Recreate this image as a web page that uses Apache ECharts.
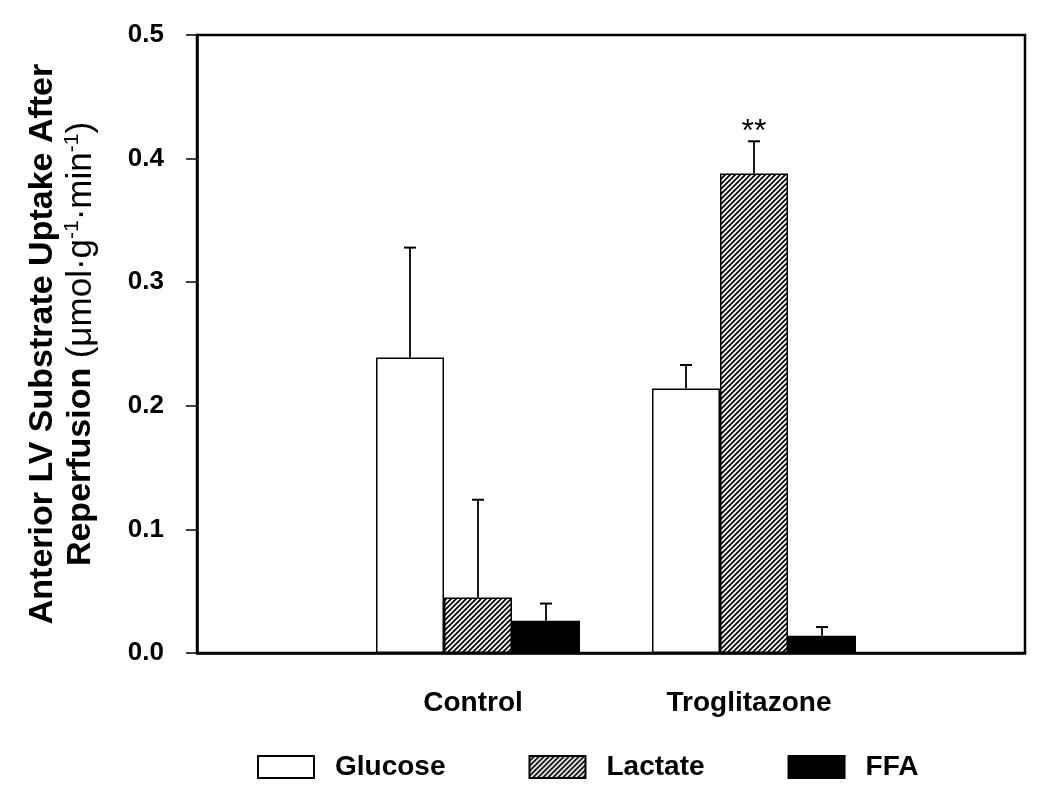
<!DOCTYPE html>
<html><head><meta charset="utf-8">
<script src="https://cdn.jsdelivr.net/npm/echarts@6/dist/echarts.min.js"></script>
<style>html,body{margin:0;padding:0;background:#fff}#c{width:1050px;height:805px}</style>
</head><body><div id="c"></div>
<script>
// ---- data ----
const categories = ['', 'Control', 'Troglitazone', ''];
const seriesNames = ['Glucose', 'Lactate', 'FFA'];
const glucose = [null, 0.239, 0.214, null];
const lactate = [null, 0.045, 0.388, null];
const ffa = [null, 0.026, 0.014, null];
const glucoseErr = [null, 0.089, 0.019, null];
const lactateErr = [null, 0.079, 0.026, null];
const ffaErr = [null, 0.014, 0.007, null];
const lactateMarks = ['', '', '**', ''];
const yMin = 0, yMax = 0.5, yStep = 0.1;

// ---- style ----
const FONT = 'Liberation Sans, Arial, Helvetica, sans-serif';
const BAR_W = 68;
const SPACER_W = 10; // empty slot that nudges the bar group right

function hatchCanvas() {
  const s = 5, c = document.createElement('canvas');
  c.width = s; c.height = s;
  const g = c.getContext('2d');
  g.fillStyle = '#fff'; g.fillRect(0, 0, s, s);
  g.strokeStyle = '#000'; g.lineWidth = 1.8; g.lineCap = 'square';
  g.beginPath();
  g.moveTo(0, s); g.lineTo(s, 0);
  g.moveTo(-1, 1); g.lineTo(1, -1);
  g.moveTo(s - 1, s + 1); g.lineTo(s + 1, s - 1);
  g.stroke();
  return c;
}
const fills = ['#ffffff', { image: hatchCanvas(), repeat: 'repeat' }, '#000000'];
const values = [glucose, lactate, ffa];
const errors = [glucoseErr, lactateErr, ffaErr];
const marks = [[], lactateMarks, []];

const series = [{
  name: 'spacer', type: 'bar', data: categories.map(() => null),
  barWidth: SPACER_W, barGap: '0%', silent: true, itemStyle: { color: 'transparent' }
}];
values.forEach((vals, k) => {
  series.push({
    name: seriesNames[k], type: 'bar', data: vals,
    barWidth: BAR_W, barGap: '0%',
    itemStyle: { color: fills[k], borderColor: '#000', borderWidth: 1.5 },
    emphasis: { disabled: true }, z: 2
  });
});
values.forEach((vals, k) => {
  const data = [];
  vals.forEach((v, i) => { if (v != null) data.push([i, v, errors[k][i], marks[k][i] || '']); });
  series.push({
    name: seriesNames[k] + ' err', type: 'custom', z: 3, silent: true,
    encode: { x: 0, y: 1 },
    data: data,
    renderItem: function (params, api) {
      const i = api.value(0), v = api.value(1), e = api.value(2);
      const mark = data[params.dataIndex][3];
      const off = (k - 1) * BAR_W + SPACER_W / 2;
      const p0 = api.coord([i, v]);
      const p1 = api.coord([i, v + e]);
      const x = p0[0] + off;
      const children = [
        { type: 'line', shape: { x1: x, y1: p0[1], x2: x, y2: p1[1] }, style: { stroke: '#000', lineWidth: 1.8 } },
        { type: 'line', shape: { x1: x - 6, y1: p1[1], x2: x + 6, y2: p1[1] }, style: { stroke: '#000', lineWidth: 2 } }
      ];
      if (mark) {
        children.push({ type: 'text', x: x, y: p1[1] - 9,
          style: { text: mark, fill: '#000', font: '32px ' + FONT, align: 'center', verticalAlign: 'middle' } });
      }
      return { type: 'group', children: children };
    }
  });
});

const chart = echarts.init(document.getElementById('c'), null, { renderer: 'canvas' });
chart.setOption({
  animation: false,
  backgroundColor: '#fff',
  grid: { left: 197, right: 25, top: 35, bottom: 152, show: true, borderColor: '#000', borderWidth: 2.5, backgroundColor: 'transparent' },
  legend: {
    data: seriesNames, left: 257, top: 753, padding: 0,
    icon: 'rect', itemWidth: 56, itemHeight: 22, itemGap: 83,
    selectedMode: false,
    textStyle: { fontFamily: FONT, fontWeight: 'bold', fontSize: 28, color: '#000', padding: [0, 0, 0, 16] }
  },
  xAxis: {
    type: 'category', data: categories, boundaryGap: false,
    axisLine: { lineStyle: { color: '#000', width: 2.5 } },
    axisTick: { show: false },
    axisLabel: { interval: 0, margin: 36, color: '#000', fontFamily: FONT, fontWeight: 'bold', fontSize: 28 },
    splitLine: { show: false }
  },
  yAxis: {
    type: 'value', min: yMin, max: yMax, interval: yStep,
    axisLine: { show: true, lineStyle: { color: '#000', width: 2.5 } },
    axisTick: { show: true, length: 11, lineStyle: { color: '#000', width: 1.5 } },
    axisLabel: { margin: 33, color: '#000', fontFamily: FONT, fontWeight: 'bold', fontSize: 26, formatter: v => v.toFixed(1) },
    splitLine: { show: false },
    name: '{b|Anterior LV Substrate Uptake After}\n{b|Reperfusion }{r|(μmol·g}{s|-1}{r|·min}{s|-1}{r|)}',
    nameLocation: 'middle', nameGap: 97, nameRotate: 90,
    nameTextStyle: {
      color: '#000', fontFamily: FONT,
      rich: {
        b: { fontFamily: FONT, fontWeight: 'bold', fontSize: 34, lineHeight: 38, color: '#000' },
        r: { fontFamily: FONT, fontSize: 35, lineHeight: 38, color: '#000' },
        s: { fontFamily: FONT, fontSize: 21, lineHeight: 25, verticalAlign: 'top', color: '#000' }
      }
    }
  },
  series: series
});
</script>
</body></html>
